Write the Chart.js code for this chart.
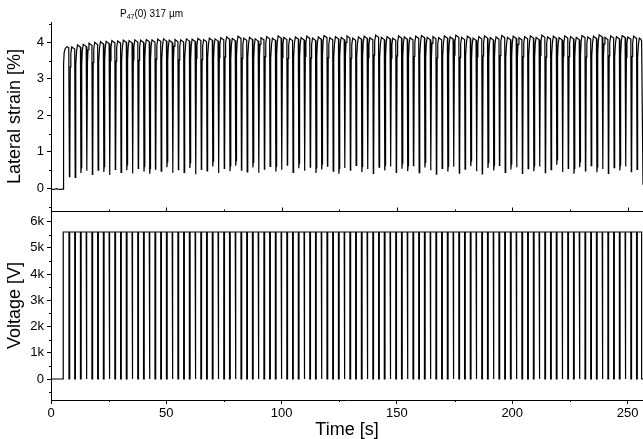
<!DOCTYPE html>
<html>
<head>
<meta charset="utf-8">
<script src="https://cdn.jsdelivr.net/npm/chart.js@4.4.1/dist/chart.umd.min.js"></script>
<style>
  html, body { margin: 0; padding: 0; background: #fff; }
  #wrap { width: 643px; height: 439px; }
</style>
</head>
<body>
<div id="wrap"><canvas id="chart" width="643" height="439"></canvas></div>
<script>
// Tick labels
var timeLabels = {0: '0', 50: '50', 100: '100', 150: '150', 200: '200', 250: '250'};
var strainLabels = {0: '0', 1: '1', 2: '2', 3: '3', 4: '4'};
var voltLabels = {0: '0', 1000: '1k', 2000: '2k', 3000: '3k', 4000: '4k', 5000: '5k', 6000: '6k'};

// Strain before the first switch-off (s / %)
var leadTime = [0, 1.2, 2.4, 3.6, 4.8, 5.3, 5.45, 5.7, 6.2, 7.0, 7.7];
var leadStrain = [-0.02, -0.03, -0.01, -0.03, -0.02, -0.02, 3.4, 3.72, 3.84, 3.88, 3.86];

// Actuation cycles: voltage switched off at firstDip + k * period
var firstDip = 7.8;
var period = 2.486;
var offTime = 0.3;

// Peak and trough strain of each cycle (%)
var peaks = [3.88, 3.93, 3.95, 3.98, 4.00, 4.02, 4.03, 4.05, 4.04, 4.06,
             4.05, 4.07, 4.06, 4.08, 4.07, 4.09, 4.10, 4.06, 4.08, 4.07,
             4.10, 4.09, 4.11, 4.08, 4.12, 4.10, 4.13, 4.15, 4.11, 4.17,
             4.12, 4.14, 4.10, 4.13, 4.16, 4.12, 4.18, 4.14, 4.11, 4.15,
             4.13, 4.17, 4.12, 4.15, 4.19, 4.13, 4.16, 4.14, 4.18, 4.12,
             4.15, 4.17, 4.13, 4.20, 4.14, 4.16, 4.12, 4.18, 4.15, 4.13,
             4.17, 4.19, 4.14, 4.16, 4.13, 4.18, 4.15, 4.20, 4.14, 4.17,
             4.12, 4.16, 4.18, 4.13, 4.15, 4.19, 4.14, 4.17, 4.13, 4.16,
             4.18, 4.14, 4.20, 4.15, 4.17, 4.13, 4.18, 4.16, 4.14, 4.19,
             4.15, 4.17, 4.21, 4.14, 4.18, 4.16, 4.19, 4.15, 4.17, 4.12];
var troughs = [0.32, 0.30, 0.42, 0.48, 0.38, 0.50, 0.45, 0.37, 0.52, 0.44,
               0.50, 0.41, 0.55, 0.46, 0.40, 0.53, 0.47, 0.58, 0.43, 0.51,
               0.44, 0.56, 0.39, 0.52, 0.48, 0.60, 0.42, 0.55, 0.47, 0.62,
               0.50, 0.45, 0.57, 0.43, 0.53, 0.60, 0.46, 0.51, 0.64, 0.44,
               0.55, 0.48, 0.58, 0.42, 0.52, 0.61, 0.47, 0.40, 0.56, 0.50,
               0.63, 0.45, 0.53, 0.41, 0.58, 0.49, 0.60, 0.44, 0.54, 0.47,
               0.62, 0.43, 0.57, 0.50, 0.39, 0.55, 0.46, 0.59, 0.42, 0.53,
               0.61, 0.47, 0.40, 0.56, 0.49, 0.63, 0.44, 0.52, 0.58, 0.41,
               0.54, 0.47, 0.60, 0.43, 0.51, 0.65, 0.45, 0.55, 0.40, 0.58,
               0.48, 0.62, 0.44, 0.53, 0.41, 0.57, 0.49, 0.60, 0.46, 0.52];

// Voltage (V)
var voltOnTime = 5.3;
var voltEndTime = 256.1;
var voltHigh = 5600;
var endTime = 256.7;
var tailStrain = [4.05, 0.1];

// Tick grids: [first, last, step, major every]
var xGrid = [0, 250, 25, 50];
var strainGrid = [-0.5, 4.5, 0.5, 1];
var voltGrid = [-500, 6000, 500, 1000];

function buildStrain() {
    var pts = leadTime.map(function(t, i) { return {x: t, y: leadStrain[i]}; });
    for (var k = 0; k < peaks.length; k++) {
        var t = firstDip + k * period;
        var p = peaks[k];
        var prev = k === 0 ? leadStrain[leadStrain.length - 1] : peaks[k - 1] - 0.06;
        pts.push({x: t, y: prev});
        pts.push({x: t + 0.2, y: troughs[k]});
        pts.push({x: t + 0.35, y: troughs[k] + 0.15});
        pts.push({x: t + 0.55, y: p - 0.55});
        pts.push({x: t + 0.8, y: p - 0.18});
        pts.push({x: t + 1.2, y: p});
        pts.push({x: t + 1.8, y: p - 0.03});
    }
    pts.push({x: voltEndTime, y: tailStrain[0]});
    pts.push({x: endTime, y: tailStrain[1]});
    return pts;
}

function buildVoltage() {
    var pts = [{x: 0, y: 0}, {x: voltOnTime, y: 0}, {x: voltOnTime, y: voltHigh}];
    for (var k = 0; k < peaks.length; k++) {
        var t = firstDip + k * period;
        pts.push({x: t, y: voltHigh}, {x: t, y: 0}, {x: t + offTime, y: 0}, {x: t + offTime, y: voltHigh});
    }
    pts.push({x: voltEndTime, y: voltHigh}, {x: voltEndTime, y: 0}, {x: endTime, y: 0});
    return pts;
}

function tickList(g) {
    var out = [];
    var n = Math.round((g[1] - g[0]) / g[2]);
    for (var i = 0; i <= n; i++) {
        var v = Math.round((g[0] + i * g[2]) * 1000) / 1000;
        out.push({value: v, major: Math.abs(v / g[3] - Math.round(v / g[3])) < 1e-6});
    }
    return out;
}

function labelFrom(map) {
    return function(v) {
        var r = Math.round(v * 1000) / 1000;
        return map[r] !== undefined ? map[r] : '';
    };
}

function majorColor(c) {
    return (c.tick && c.tick.major) ? '#000' : 'rgba(0,0,0,0)';
}

// Divider between panels, inward ticks, minor ticks and the sample note
var panelFrame = {
    id: 'panelFrame',
    afterDraw: function(chart) {
        var ctx = chart.ctx;
        var area = chart.chartArea;
        var xs = chart.scales.x;
        ctx.save();
        ctx.strokeStyle = '#000';
        ctx.lineWidth = 1;
        function seg(x1, y1, x2, y2) {
            ctx.beginPath(); ctx.moveTo(x1, y1); ctx.lineTo(x2, y2); ctx.stroke();
        }
        var yd = Math.round(chart.scales.yS.bottom) + 0.5;
        seg(area.left, yd, area.right, yd);
        xs.ticks.forEach(function(t) {
            var px = Math.round(xs.getPixelForValue(t.value)) + 0.5;
            seg(px, yd, px, yd - (t.major ? 4 : 2));
            if (!t.major) { seg(px, xs.top, px, xs.top + 2); }
        });
        ['yS', 'yV'].forEach(function(id) {
            var s = chart.scales[id];
            s.ticks.forEach(function(t) {
                if (t.major) { return; }
                var py = Math.round(s.getPixelForValue(t.value)) + 0.5;
                seg(s.right - 2, py, s.right, py);
            });
        });
        // P47(0) 317 um
        ctx.fillStyle = '#000';
        ctx.textBaseline = 'alphabetic';
        ctx.font = '10px "Liberation Sans", Arial, sans-serif';
        var x0 = 120, yb = 17;
        ctx.fillText('P', x0, yb);
        var w = ctx.measureText('P').width;
        ctx.font = '7px "Liberation Sans", Arial, sans-serif';
        ctx.fillText('47', x0 + w, yb + 2);
        var w2 = ctx.measureText('47').width;
        ctx.font = '10px "Liberation Sans", Arial, sans-serif';
        ctx.fillText('(0) 317 \u00b5m', x0 + w + w2, yb);
        ctx.restore();
    }
};

Chart.defaults.font.family = '"Liberation Sans", Arial, sans-serif';
Chart.defaults.color = '#000';

new Chart(document.getElementById('chart'), {
    type: 'line',
    data: {
        datasets: [{
            label: 'Lateral strain',
            data: buildStrain(),
            yAxisID: 'yS',
            borderColor: '#000',
            borderWidth: 1.2,
            pointRadius: 0,
            tension: 0
        }, {
            label: 'Voltage',
            data: buildVoltage(),
            yAxisID: 'yV',
            borderColor: '#000',
            borderWidth: 1.2,
            pointRadius: 0,
            tension: 0
        }]
    },
    options: {
        responsive: false,
        animation: false,
        devicePixelRatio: 1,
        layout: {padding: {top: 22, right: 0, bottom: 0, left: 0}},
        plugins: {legend: {display: false}, tooltip: {enabled: false}},
        scales: {
            x: {
                type: 'linear',
                min: 0,
                max: endTime,
                grid: {drawOnChartArea: false, tickLength: 4, tickColor: majorColor},
                border: {color: '#000', width: 1},
                ticks: {autoSkip: false, maxRotation: 0, padding: 2, font: {size: 13},
                        callback: labelFrom(timeLabels)},
                afterBuildTicks: function(s) { s.ticks = tickList(xGrid); },
                title: {display: true, text: 'Time [s]', font: {size: 18, lineHeight: 1}, padding: 0},
                afterFit: function(s) { s.height = 39; }
            },
            yS: {
                type: 'linear',
                position: 'left',
                stack: 'panels',
                stackWeight: 1,
                weight: 2,
                min: -0.62,
                max: 4.56,
                grid: {drawOnChartArea: false, tickLength: 4, tickColor: majorColor},
                border: {color: '#000', width: 1},
                ticks: {autoSkip: false, padding: 3, font: {size: 13},
                        callback: labelFrom(strainLabels)},
                afterBuildTicks: function(s) { s.ticks = tickList(strainGrid); },
                title: {display: true, text: 'Lateral strain [%]', font: {size: 18}, padding: {top: 4, bottom: 0}},
                afterFit: function(s) { s.width = 51; }
            },
            yV: {
                type: 'linear',
                position: 'left',
                stack: 'panels',
                stackWeight: 1,
                weight: 1,
                min: -800,
                max: 6400,
                grid: {drawOnChartArea: false, tickLength: 4, tickColor: majorColor},
                border: {color: '#000', width: 1},
                ticks: {autoSkip: false, padding: 3, font: {size: 13},
                        callback: labelFrom(voltLabels)},
                afterBuildTicks: function(s) { s.ticks = tickList(voltGrid); },
                title: {display: true, text: 'Voltage [V]', font: {size: 18}, padding: {top: 4, bottom: 0}},
                afterFit: function(s) { s.width = 51; }
            }
        }
    },
    plugins: [panelFrame]
});
</script>
</body>
</html>
